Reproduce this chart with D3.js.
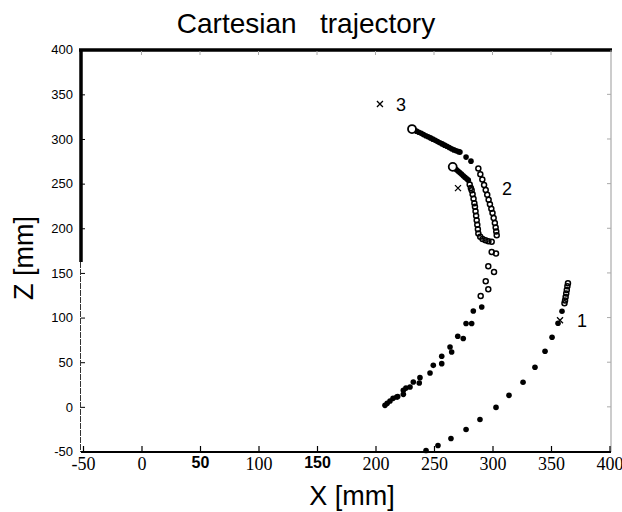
<!DOCTYPE html>
<html>
<head>
<meta charset="utf-8">
<script src="https://cdn.jsdelivr.net/npm/d3@7"></script>
<style>
  body { margin: 0; background: #fff; }
  svg { display: block; }
  .xlab { font-family: "Liberation Serif", "DejaVu Serif", serif; font-size: 18px; }
  .xlab.heavy { font-family: "Liberation Sans", Arial, sans-serif; font-size: 16px; font-weight: bold; }
  .zlab { font-family: "Liberation Sans", Arial, sans-serif; font-size: 13px; }
</style>
</head>
<body>
<div id="chart"></div>
<script>
// Chart data (mm)
var xTicks = [-50, 0, 50, 100, 150, 200, 250, 300, 350, 400];
var zTicks = [-50, 0, 50, 100, 150, 200, 250, 300, 350, 400];

// goal points (the crosses)
var goalNames = ['1', '2', '3'];
var goalX = [357.7, 270.5, 203.8];
var goalZ = [97, 245, 339.1];

// trajectory 1
var traj1DotsX = [243.2, 253.4, 264.5, 277.4, 289.3, 303.0, 314.1, 326.1, 336.3, 344.9, 350.9, 356.0, 359.4];
var traj1DotsZ = [-48.8, -43.2, -35.4, -25.3, -14.1, -0.6, 12.9, 27.5, 44.3, 62.2, 77.9, 93.6, 107.1];
var traj1CirclesX = [361.5, 362, 362.5, 363, 363.5, 364, 364.5];
var traj1CirclesZ = [116, 119, 123, 127, 131, 135, 138.5];

// trajectory 2
var traj2CirclesX = [280.5, 281.5, 282.2, 283, 283.8, 284.5, 285, 285.5, 286, 286.5, 287, 287.5, 287.9, 289.5, 291.5, 294, 296.5, 299.3,
  299.3, 296.4, 294.2, 289.9];
var traj2CirclesZ = [249, 245, 242.7, 238, 233, 228, 224, 219, 214, 209, 204, 199, 194.2, 190.5, 188, 186.5, 185.5, 184.8,
  173.5, 157.5, 140.7, 124.2];
var traj2DotsX = [266, 267.5, 269, 270.5, 272, 273.5, 275, 276.5, 278, 279.3,
  283.6, 277.4, 270.3, 263.7, 256.6, 249.4, 238.0, 232.3, 226, 223.8, 218.1, 212.4, 208.1];
var traj2DotsZ = [268.8, 267.3, 265.8, 264.2, 262.5, 260.7, 258.8, 257, 255.5, 253.9,
  107.4, 93.3, 79.0, 67.0, 56.6, 46.5, 32.7, 27.8, 21, 18.5, 11.0, 6.5, 1.7];

// trajectory 3
var traj3CirclesX = [287.9, 289.6, 291.3, 292.8, 294.2, 295.5, 296.7, 297.8, 299, 300, 301, 302, 302.7, 303.2, 303.6,
  303.0, 301.3, 296.4];
var traj3CirclesZ = [267, 260.5, 254.5, 248.5, 243, 237.5, 232, 227, 222, 217, 211.5, 206, 201, 196.5, 192.2,
  171.7, 151.1, 131.7];
var traj3DotsX = [231.2, 233, 235, 237, 239, 241, 243, 245, 247, 249, 251, 253, 255, 257, 259, 261, 263, 265, 267, 269, 271, 272.2,
  277.4, 281.6, 290.8, 282.2, 275.0, 265.1, 256.6, 246.6, 237.4, 229.5, 223.8, 219, 215, 210];
var traj3DotsZ = [311.1, 310, 308.8, 307.5, 306.3, 305, 303.7, 302.5, 301.2, 299.8, 298.5, 297.1, 295.8, 294.5, 293.1, 291.8, 290.4, 289.1, 287.8, 286.8, 285.8, 285.3,
  279.7, 275.2, 111.9, 93.3, 76.5, 61.4, 48.4, 37.9, 26.7, 22.2, 14.0, 11.5, 9.5, 3.9];

var width = 622, height = 512;

var svg = d3.select('#chart').append('svg')
  .attr('width', width)
  .attr('height', height);

var x = d3.scaleLinear().domain([-50, 400]).range([83, 609.5]);
var z = d3.scaleLinear().domain([-50, 400]).range([451.5, 49.7]);

var zip = function(xs, zs) {
  return xs.map(function(v, i) { return [v, zs[i]]; });
};

// title
svg.append('text')
  .attr('x', 306).attr('y', 33)
  .attr('text-anchor', 'middle')
  .attr('font-family', 'Liberation Sans, Arial, sans-serif')
  .attr('font-size', 28)
  .attr('xml:space', 'preserve')
  .text('Cartesian   trajectory');

// frame - the scan has a heavy top and upper left edge, the rest is faint
svg.append('line').attr('x1', 79).attr('x2', 612).attr('y1', 50).attr('y2', 50)
  .attr('stroke', '#000').attr('stroke-width', 3.5);
svg.append('line').attr('x1', 81).attr('x2', 81).attr('y1', 49).attr('y2', 262)
  .attr('stroke', '#000').attr('stroke-width', 3.5);
svg.append('line').attr('x1', 80.5).attr('x2', 80.5).attr('y1', 262).attr('y2', 452)
  .attr('stroke', '#333').attr('stroke-width', 1).attr('stroke-dasharray', '6,1');
svg.append('line').attr('x1', 611).attr('x2', 611).attr('y1', 50).attr('y2', 452)
  .attr('stroke', '#999').attr('stroke-width', 1);
svg.append('line').attr('x1', 81).attr('x2', 611).attr('y1', 452).attr('y2', 452)
  .attr('stroke', '#000').attr('stroke-width', 2);

// x axis - the scan mixes two typefaces in the labels
var xAxis = d3.axisBottom(x).tickValues(xTicks).tickSize(-6).tickPadding(5)
  .tickFormat(function(d) { return String(d); });
var gx = svg.append('g').attr('transform', 'translate(0,452)').call(xAxis)
  .attr('font-family', null).attr('font-size', null);
gx.select('.domain').remove();
gx.selectAll('.tick line').attr('stroke', '#000').attr('stroke-width', 1.2);
gx.selectAll('.tick text')
  .attr('class', function(d) { return (d == 50 || d == 150) ? 'xlab heavy' : 'xlab'; })
  .attr('fill', '#000');

// z axis
var zAxis = d3.axisLeft(z).tickValues(zTicks).tickSize(-4).tickPadding(8)
  .tickFormat(function(d) { return String(d); });
var gz = svg.append('g').attr('transform', 'translate(81,0)').call(zAxis)
  .attr('font-family', null).attr('font-size', null);
gz.select('.domain').remove();
gz.selectAll('.tick line').attr('stroke', '#000');
gz.selectAll('.tick text').attr('class', 'zlab').attr('fill', '#000');

// faint ticks along the top and right edges
svg.append('g').selectAll('line').data(xTicks.slice(1, -1)).enter().append('line')
  .attr('x1', x).attr('x2', x).attr('y1', 51).attr('y2', 55)
  .attr('stroke', '#aaa');
svg.append('g').selectAll('line').data(zTicks.slice(1, -1)).enter().append('line')
  .attr('x1', 607).attr('x2', 611).attr('y1', z).attr('y2', z)
  .attr('stroke', '#aaa');

// axis titles
svg.append('text')
  .attr('x', 352).attr('y', 505)
  .attr('text-anchor', 'middle')
  .attr('font-family', 'Liberation Sans, Arial, sans-serif')
  .attr('font-size', 27)
  .text('X [mm]');
svg.append('text')
  .attr('transform', 'translate(33,258) rotate(-90)')
  .attr('text-anchor', 'middle')
  .attr('font-family', 'Liberation Sans, Arial, sans-serif')
  .attr('font-size', 27)
  .text('Z [mm]');

// hollow circles
var circles = [].concat(zip(traj1CirclesX, traj1CirclesZ), zip(traj2CirclesX, traj2CirclesZ), zip(traj3CirclesX, traj3CirclesZ));
svg.append('g').selectAll('circle')
  .data(circles)
  .enter()
  .append('circle')
  .attr('cx', function(d) { return x(d[0]); })
  .attr('cy', function(d) { return z(d[1]); })
  .attr('r', 2.5)
  .attr('fill', 'none')
  .attr('stroke', '#000')
  .attr('stroke-width', 1.5);

// filled dots
var dots = [].concat(zip(traj1DotsX, traj1DotsZ), zip(traj2DotsX, traj2DotsZ), zip(traj3DotsX, traj3DotsZ));
svg.append('g').selectAll('circle')
  .data(dots)
  .enter()
  .append('circle')
  .attr('cx', function(d) { return x(d[0]); })
  .attr('cy', function(d) { return z(d[1]); })
  .attr('r', 2.8)
  .attr('fill', '#000');

// start markers, first point of 2 and 3
var starts = [[traj2DotsX[0], traj2DotsZ[0]], [traj3DotsX[0], traj3DotsZ[0]]];
svg.append('g').selectAll('circle')
  .data(starts)
  .enter()
  .append('circle')
  .attr('cx', function(d) { return x(d[0]); })
  .attr('cy', function(d) { return z(d[1]); })
  .attr('r', 4)
  .attr('fill', '#fff')
  .attr('stroke', '#000')
  .attr('stroke-width', 1.8);

// goals
var labelDx = { '1': 22, '2': 49, '3': 21 };
var goals = goalNames.map(function(n, i) { return { name: n, x: goalX[i], z: goalZ[i] }; });
var g = svg.append('g').selectAll('g')
  .data(goals)
  .enter()
  .append('g')
  .attr('transform', function(d) { return 'translate(' + x(d.x) + ',' + z(d.z) + ')'; });
g.append('path')
  .attr('d', 'M-3,-3L3,3M-3,3L3,-3')
  .attr('stroke', '#000')
  .attr('stroke-width', 1.3);
g.append('text')
  .attr('x', function(d) { return labelDx[d.name]; })
  .attr('dy', '0.36em')
  .attr('text-anchor', 'middle')
  .attr('font-family', 'Liberation Sans, Arial, sans-serif')
  .attr('font-size', 18)
  .text(function(d) { return d.name; });
</script>
</body>
</html>
